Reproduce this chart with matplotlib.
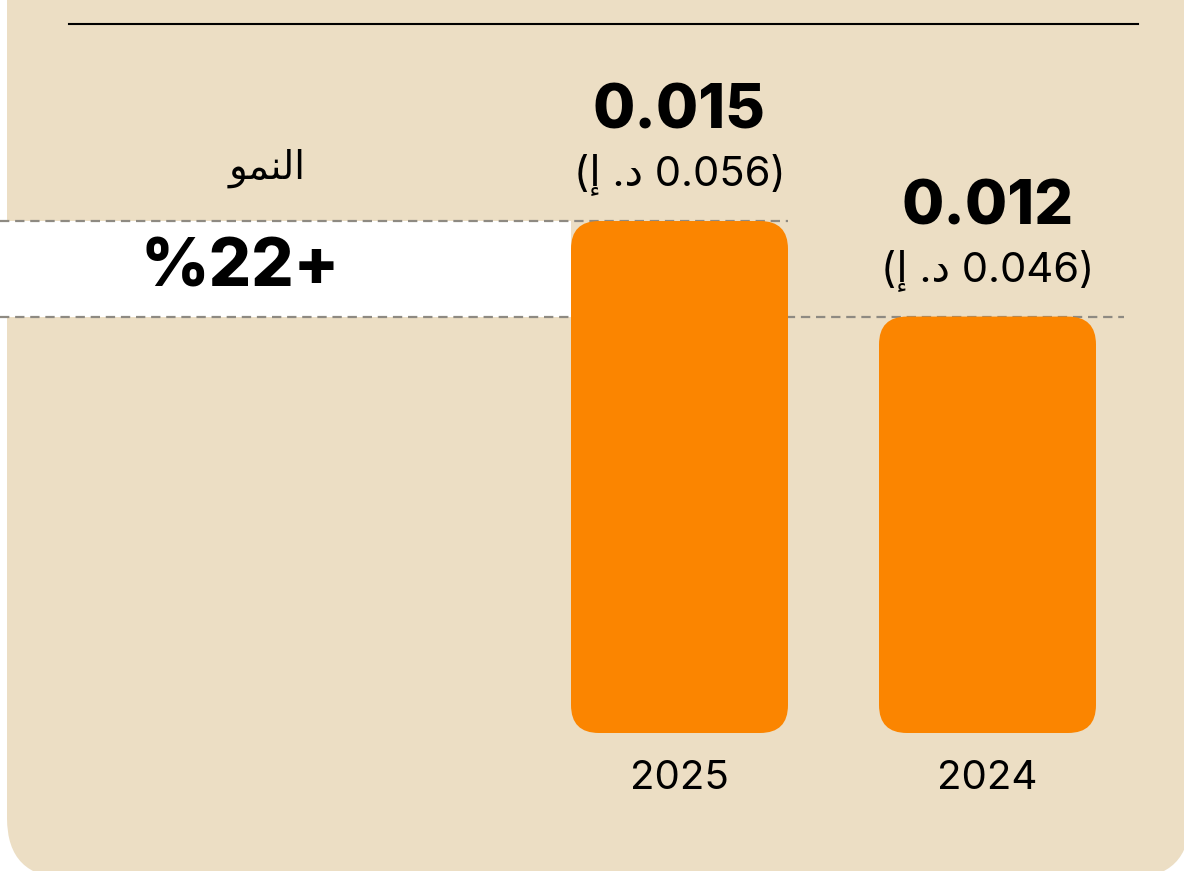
import matplotlib
matplotlib.use("Agg")
import matplotlib.pyplot as plt
from matplotlib.patches import FancyBboxPatch
import matplotlib.transforms as mtransforms

plt.rcParams['font.family'] = ['Inter', 'DejaVu Sans']

# data
years = ['2025', '2024']
values = [0.015, 0.0122]
value_labels = ['0.015', '0.012']
aed_amounts = ['0.056', '0.046']
growth_pct = '22'
growth_word = '\ufeee\ufee4\ufee8\ufedf\ufe8d'  # "النمو" pre-shaped, visual order
aed_sign = '\u0625 .\u062f'  # "د. إ" in visual order

card_color = '#ecdec4'
bar_color = '#fb8500'
dash_color = '#8e8a82'

W, H, DPI = 1184, 871, 100
fig = plt.figure(figsize=(W / DPI, H / DPI), dpi=DPI, facecolor='white')

# card background (rounded bottom corners)
card = FancyBboxPatch((7, -7), 1183, H + 100, boxstyle='round,pad=0,rounding_size=60',
                      transform=None, facecolor=card_color, edgecolor='none', zorder=-10)
fig.patches.append(card)

ax = fig.add_axes([0, 0, 1, 1])
ax.set_facecolor('none')
ax.axis('off')

# scale: bar pitch 308 px, 0.015 -> 512 px tall, baseline at 138 px from bottom
pitch = 308.0
x0_px = 679.5
px_per_unit = 512 / 0.015
base_px = 138
ax.set_xlim(-x0_px / pitch, (W - x0_px) / pitch)
ax.set_ylim(-base_px / px_per_unit, (H - base_px) / px_per_unit)

xs = list(range(len(years)))
width = 217 / pitch
radius = 28 / pitch
aspect = pitch / px_per_unit
xl = ax.get_xlim()

# white band between the two bar heights
ax.fill_between([xl[0], xs[0] - width / 2], values[1], values[0],
                color='white', linewidth=0, zorder=1)

# dashed guide lines at bar tops
ax.hlines(values[0], xl[0], xs[0] + width / 2, colors=dash_color,
          linestyles=(0, (4.2, 2.6)), linewidth=1.6, zorder=2)
ax.hlines(values[1], xl[0], xs[1] + width / 2 + 28 / pitch, colors=dash_color,
          linestyles=(0, (4.2, 2.6)), linewidth=1.6, zorder=2)

for x, v, lab, aed, yr in zip(xs, values, value_labels, aed_amounts, years):
    bar = FancyBboxPatch((x - width / 2, 0), width, v,
                         boxstyle='round,pad=0,rounding_size=%f' % radius,
                         mutation_aspect=aspect, facecolor=bar_color,
                         edgecolor='none', zorder=3)
    ax.add_patch(bar)
    ax.annotate(lab, (x, v), xytext=(0, 78), textcoords='offset points',
                ha='center', va='center', fontsize=44, fontweight='heavy', color='black')
    ax.annotate('(' + aed_sign + ' ' + aed + ')', (x, v), xytext=(0, 33),
                textcoords='offset points', ha='center', va='center',
                fontsize=30, color='black')
    ax.annotate(yr, (x, 0), xytext=(0, -33), textcoords='offset points',
                ha='center', va='center', fontsize=29, color='black')

# growth label
blend = mtransforms.blended_transform_factory(ax.transAxes, ax.transData)
ax.text(240 / W, (values[0] + values[1]) / 2, '%' + growth_pct + '+',
        transform=blend, ha='center', va='center', fontsize=48,
        fontweight='heavy', color='black', zorder=4)
ax.annotate(growth_word, (306 / W, values[0]), xycoords=blend, xytext=(0, 38),
            textcoords='offset points', ha='right', va='center', fontsize=28,
            color='black')

# top rule
fig.add_artist(plt.Line2D([69 / W, 1138 / W], [1 - 24 / H, 1 - 24 / H],
                          color='black', linewidth=1.5))

fig.savefig('out.png', dpi=DPI, facecolor='white')
